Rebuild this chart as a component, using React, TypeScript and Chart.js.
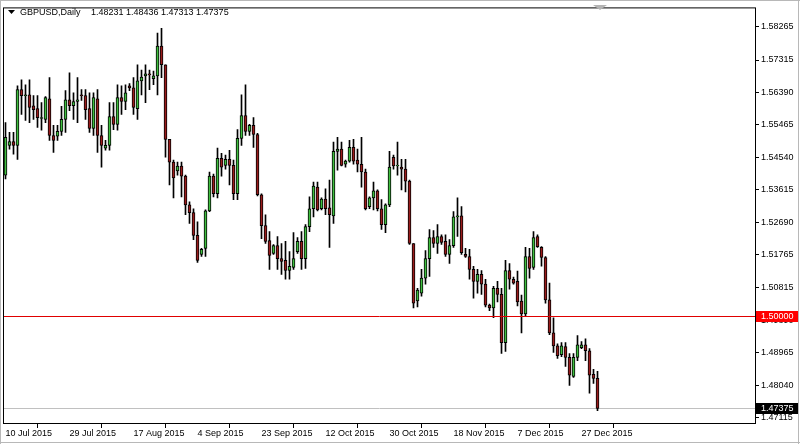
import React, { useEffect, useRef } from 'react';
import { Chart, registerables } from 'chart.js';
Chart.register(...registerables);

const SYMBOL = 'GBPUSD,Daily';
const LAST_BAR = ['1.48231', '1.48436', '1.47313', '1.47375'];
const LEVEL_LINE = 1.5;
const BID = 1.47375;

const OPEN = [
  1.5403, 1.5488, 1.5499, 1.5488, 1.5647, 1.5630, 1.5632, 1.5601, 1.5593, 1.5565,
  1.5562, 1.5621, 1.5516, 1.5514, 1.5528, 1.5562, 1.5618, 1.5601, 1.5613, 1.5632,
  1.5630, 1.5593, 1.5536, 1.5621, 1.5516, 1.5480, 1.5488, 1.5570, 1.5548, 1.5624,
  1.5613, 1.5658, 1.5652, 1.5593, 1.5672, 1.5686, 1.5692, 1.5678, 1.5686, 1.5771,
  1.5718, 1.5505, 1.5440, 1.5415, 1.5429, 1.5400, 1.5318, 1.5296, 1.5231, 1.5177,
  1.5194, 1.5301, 1.5400, 1.5350, 1.5451, 1.5431, 1.5448, 1.5431, 1.5350, 1.5508,
  1.5573, 1.5528, 1.5545, 1.5519, 1.5347, 1.5259, 1.5216, 1.5180, 1.5202, 1.5165,
  1.5160, 1.5131, 1.5140, 1.5185, 1.5214, 1.5165, 1.5256, 1.5307, 1.5369, 1.5307,
  1.5335, 1.5310, 1.5287, 1.5471, 1.5477, 1.5434, 1.5443, 1.5482, 1.5446, 1.5434,
  1.5412, 1.5313, 1.5338, 1.5358, 1.5307, 1.5262, 1.5318, 1.5454, 1.5429, 1.5426,
  1.5420, 1.5386, 1.5208, 1.5044, 1.5066, 1.5109, 1.5165, 1.5225, 1.5208, 1.5228,
  1.5214, 1.5177, 1.5202, 1.5284, 1.5287, 1.5177, 1.5171, 1.5134, 1.5100, 1.5120,
  1.5092, 1.5032, 1.5024, 1.5080, 1.5063, 1.4925, 1.5131, 1.5106, 1.5100, 1.5044,
  1.5007, 1.5171, 1.5140, 1.5228, 1.5197, 1.5168, 1.5047, 1.4953, 1.4916, 1.4891,
  1.4914, 1.4883, 1.4829, 1.4883, 1.4911, 1.4919, 1.4902, 1.4835, 1.48231,
];
const HIGH = [
  1.5553, 1.5525, 1.5525, 1.5658, 1.5675, 1.5661, 1.5675, 1.5630, 1.5630, 1.5610,
  1.5627, 1.5681, 1.5545, 1.5545, 1.5599, 1.5644, 1.5695, 1.5638, 1.5681, 1.5647,
  1.5647, 1.5638, 1.5638, 1.5647, 1.5545, 1.5502, 1.5610, 1.5610, 1.5661, 1.5658,
  1.5661, 1.5664, 1.5681, 1.5718, 1.5703, 1.5718, 1.5703, 1.5700, 1.5808, 1.5822,
  1.5718, 1.5505, 1.5446, 1.5440, 1.5440, 1.5403, 1.5327, 1.5307, 1.5270, 1.5194,
  1.5304, 1.5412, 1.5406, 1.5480, 1.5465, 1.5460, 1.5474, 1.5446, 1.5533, 1.5632,
  1.5661, 1.5548, 1.5567, 1.5522, 1.5350, 1.5290, 1.5242, 1.5205, 1.5228, 1.5208,
  1.5214, 1.5185, 1.5239, 1.5225, 1.5242, 1.5262, 1.5341, 1.5383, 1.5383, 1.5338,
  1.5364, 1.5389, 1.5497, 1.5511, 1.5497, 1.5446, 1.5502, 1.5505, 1.5477, 1.5511,
  1.5420, 1.5341, 1.5383, 1.5361, 1.5333, 1.5321, 1.5471, 1.5460, 1.5497, 1.5448,
  1.5448, 1.5389, 1.5208, 1.5080, 1.5134, 1.5188, 1.5248, 1.5245, 1.5262, 1.5233,
  1.5233, 1.5219, 1.5299, 1.5338, 1.5313, 1.5194, 1.5191, 1.5143, 1.5134, 1.5131,
  1.5106, 1.5035, 1.5086, 1.5100, 1.5080, 1.5160, 1.5151, 1.5112, 1.5129, 1.5061,
  1.5197, 1.5194, 1.5242, 1.5233, 1.5199, 1.5171, 1.5095, 1.4996, 1.4922, 1.4925,
  1.4925, 1.4894, 1.4894, 1.4945, 1.4928, 1.4936, 1.4908, 1.4849, 1.48436,
];
const LOW = [
  1.5392, 1.5477, 1.5463, 1.5448, 1.5576, 1.5559, 1.5553, 1.5562, 1.5539, 1.5531,
  1.5553, 1.5502, 1.5468, 1.5502, 1.5516, 1.5525, 1.5587, 1.5562, 1.5553, 1.5616,
  1.5562, 1.5525, 1.5516, 1.5468, 1.5426, 1.5474, 1.5474, 1.5533, 1.5531, 1.5576,
  1.5590, 1.5644, 1.5576, 1.5562, 1.5632, 1.5610, 1.5647, 1.5661, 1.5632, 1.5681,
  1.5454, 1.5375, 1.5338, 1.5403, 1.5341, 1.5290, 1.5265, 1.5219, 1.5154, 1.5171,
  1.5171, 1.5299, 1.5341, 1.5338, 1.5400, 1.5420, 1.5375, 1.5333, 1.5333, 1.5488,
  1.5516, 1.5516, 1.5482, 1.5344, 1.5222, 1.5208, 1.5134, 1.5177, 1.5134, 1.5120,
  1.5106, 1.5106, 1.5134, 1.5180, 1.5134, 1.5137, 1.5242, 1.5284, 1.5301, 1.5304,
  1.5290, 1.5197, 1.5265, 1.5417, 1.5429, 1.5426, 1.5440, 1.5434, 1.5412, 1.5369,
  1.5304, 1.5307, 1.5304, 1.5301, 1.5248, 1.5239, 1.5313, 1.5420, 1.5403, 1.5361,
  1.5355, 1.5205, 1.5024, 1.5027, 1.5058, 1.5092, 1.5114, 1.5197, 1.5180, 1.5205,
  1.5171, 1.5151, 1.5197, 1.5228, 1.5177, 1.5168, 1.5106, 1.5052, 1.5066, 1.5063,
  1.5027, 1.5016, 1.4996, 1.5041, 1.4894, 1.4900, 1.5078, 1.5092, 1.5030, 1.4953,
  1.5001, 1.5109, 1.5134, 1.5197, 1.5143, 1.5038, 1.4948, 1.4897, 1.4880, 1.4885,
  1.4857, 1.4803, 1.4826, 1.4874, 1.4908, 1.4874, 1.4781, 1.4809, 1.47313,
];
const CLOSE = [
  1.5511, 1.5499, 1.5488, 1.5647, 1.5630, 1.5632, 1.5596, 1.5590, 1.5567, 1.5567,
  1.5624, 1.5516, 1.5502, 1.5528, 1.5562, 1.5618, 1.5601, 1.5613, 1.5618, 1.5630,
  1.5590, 1.5536, 1.5624, 1.5516, 1.5488, 1.5488, 1.5570, 1.5548, 1.5624, 1.5613,
  1.5638, 1.5652, 1.5596, 1.5672, 1.5683, 1.5692, 1.5689, 1.5686, 1.5771, 1.5718,
  1.5505, 1.5440, 1.5395, 1.5429, 1.5400, 1.5318, 1.5296, 1.5231, 1.5160, 1.5191,
  1.5301, 1.5400, 1.5350, 1.5451, 1.5426, 1.5448, 1.5431, 1.5350, 1.5508, 1.5573,
  1.5528, 1.5545, 1.5519, 1.5347, 1.5259, 1.5214, 1.5174, 1.5202, 1.5165, 1.5157,
  1.5131, 1.5143, 1.5165, 1.5214, 1.5165, 1.5256, 1.5307, 1.5372, 1.5304, 1.5335,
  1.5307, 1.5290, 1.5471, 1.5477, 1.5431, 1.5443, 1.5482, 1.5443, 1.5434, 1.5412,
  1.5307, 1.5338, 1.5358, 1.5307, 1.5262, 1.5318, 1.5426, 1.5429, 1.5431, 1.5420,
  1.5386, 1.5208, 1.5038, 1.5075, 1.5109, 1.5165, 1.5225, 1.5208, 1.5228, 1.5211,
  1.5177, 1.5202, 1.5284, 1.5287, 1.5182, 1.5171, 1.5134, 1.5100, 1.5120, 1.5092,
  1.5032, 1.5024, 1.5080, 1.5063, 1.4925, 1.5131, 1.5106, 1.5095, 1.5041, 1.5007,
  1.5171, 1.5137, 1.5225, 1.5199, 1.5168, 1.5047, 1.4953, 1.4916, 1.4888, 1.4916,
  1.4883, 1.4832, 1.4883, 1.4919, 1.4919, 1.4902, 1.4832, 1.4823, 1.47375,
];

const DATE_TICK_BARS = [0, 16, 32, 48, 64, 80, 96, 112, 128, 144];
const DATE_TICK_LABELS = [
  '10 Jul 2015', '29 Jul 2015', '17 Aug 2015', '4 Sep 2015', '23 Sep 2015',
  '12 Oct 2015', '30 Oct 2015', '18 Nov 2015', '7 Dec 2015', '27 Dec 2015',
];
const PRICE_TICKS = [
  1.47115, 1.4804, 1.48965, 1.4989, 1.50815, 1.51765, 1.5269, 1.53615, 1.5454,
  1.55465, 1.5639, 1.57315, 1.58265,
];

const FONT = '"Liberation Sans", Arial, sans-serif';
const BULL = '#3fbf3f';
const BEAR = '#9a1c1c';

const overlay = {
  id: 'mt4overlay',
  beforeDatasetsDraw(chart: any) {
    const { ctx, chartArea: a, scales } = chart;
    const yb = Math.floor(scales.y.getPixelForValue(BID)) + 0.5;
    ctx.save();
    ctx.strokeStyle = '#c0c0c0';
    ctx.lineWidth = 1;
    ctx.beginPath();
    ctx.moveTo(a.left, yb);
    ctx.lineTo(a.right, yb);
    ctx.stroke();
    ctx.restore();
  },
  afterDatasetsDraw(chart: any) {
    const { ctx, chartArea: a, scales } = chart;
    const yl = Math.floor(scales.y.getPixelForValue(LEVEL_LINE)) + 0.5;
    ctx.save();
    ctx.strokeStyle = '#e00000';
    ctx.lineWidth = 1;
    ctx.beginPath();
    ctx.moveTo(a.left, yl);
    ctx.lineTo(a.right, yl);
    ctx.stroke();
    ctx.restore();
  },
  afterDraw(chart: any) {
    const { ctx, chartArea: a, scales } = chart;
    ctx.save();
    // frame
    ctx.strokeStyle = '#000';
    ctx.lineWidth = 1;
    ctx.strokeRect(a.left + 0.5, a.top + 0.5, a.right - a.left - 1, a.bottom - a.top - 1);
    // outer window edges
    ctx.strokeStyle = '#b8b8b8';
    ctx.beginPath();
    ctx.moveTo(798.5, 0);
    ctx.lineTo(798.5, 444);
    ctx.moveTo(0, 442.5);
    ctx.lineTo(800, 442.5);
    ctx.moveTo(0, 0.5);
    ctx.lineTo(800, 0.5);
    ctx.moveTo(0.5, 0);
    ctx.lineTo(0.5, 444);
    ctx.stroke();
    // price boxes
    ctx.font = `9px ${FONT}`;
    ctx.textBaseline = 'middle';
    ctx.textAlign = 'left';
    const yl = Math.floor(scales.y.getPixelForValue(LEVEL_LINE)) + 0.5;
    ctx.fillStyle = '#ff0000';
    ctx.fillRect(a.right, Math.round(yl - 6), 42, 11);
    ctx.fillStyle = '#fff';
    ctx.fillText(LEVEL_LINE.toFixed(5), a.right + 5, yl);
    const yb = Math.floor(scales.y.getPixelForValue(BID)) + 0.5;
    ctx.fillStyle = '#000';
    ctx.fillRect(a.right, Math.round(yb - 6), 42, 11);
    ctx.fillStyle = '#fff';
    ctx.fillText(BID.toFixed(5), a.right + 5, yb);
    // title
    ctx.fillStyle = '#000';
    ctx.beginPath();
    ctx.moveTo(8, 10);
    ctx.lineTo(15, 10);
    ctx.lineTo(11.5, 14);
    ctx.closePath();
    ctx.fill();
    ctx.fillText(SYMBOL, 20, 13);
    ctx.fillText(LAST_BAR.join(' '), 91, 13);
    // chart shift marker
    ctx.fillStyle = '#b4b4b4';
    ctx.beginPath();
    ctx.moveTo(593, 5);
    ctx.lineTo(607, 5);
    ctx.lineTo(600, 10);
    ctx.closePath();
    ctx.fill();
    ctx.restore();
  },
};

export default function App() {
  const ref = useRef<HTMLCanvasElement | null>(null);
  useEffect(() => {
    document.body.style.margin = '0';
    const canvas = ref.current!;
    const idx = OPEN.map((_, i) => i);
    const chart = new Chart(canvas, {
      type: 'bar',
      data: {
        datasets: [
          {
            label: 'body',
            data: idx.map((i) => ({ x: i, y: [OPEN[i], CLOSE[i]] })) as any,
            backgroundColor: idx.map((i) => (CLOSE[i] > OPEN[i] ? BULL : BEAR)),
            borderColor: '#000',
            borderWidth: 1,
            borderSkipped: false,
            barThickness: 3,
            grouped: false,
            order: 1,
          } as any,
          {
            label: 'wick',
            data: idx.map((i) => ({ x: i, y: [LOW[i], HIGH[i]] })) as any,
            backgroundColor: '#000',
            borderWidth: 0,
            barThickness: 1,
            grouped: false,
            order: 2,
          } as any,
        ],
      },
      options: {
        responsive: false,
        animation: false,
        events: [],
        layout: { padding: { left: 3, top: 4, right: 0, bottom: 0 } },
        plugins: { legend: { display: false }, tooltip: { enabled: false } },
        scales: {
          x: {
            type: 'linear',
            min: -0.625,
            max: 187.625,
            offset: false,
            afterFit: (s: any) => { s.height = 20; },
            afterBuildTicks: (s: any) => { s.ticks = DATE_TICK_BARS.map((v) => ({ value: v })); },
            grid: { display: true, drawOnChartArea: false, drawTicks: true, tickLength: 4, tickColor: '#000' },
            border: { display: false },
            ticks: {
              autoSkip: false,
              maxRotation: 0,
              minRotation: 0,
              align: 'start',
              padding: 0,
              color: '#000',
              font: { family: FONT, size: 9 },
              callback: (v: any) => {
                const k = DATE_TICK_BARS.indexOf(Number(v));
                return k >= 0 ? DATE_TICK_LABELS[k] : '';
              },
            },
          } as any,
          y: {
            type: 'linear',
            position: 'right',
            min: 1.469298,
            max: 1.588158,
            afterFit: (s: any) => { s.width = 44; },
            afterBuildTicks: (s: any) => { s.ticks = PRICE_TICKS.map((v) => ({ value: v })); },
            grid: { display: true, drawOnChartArea: false, drawTicks: true, tickLength: 3, tickColor: '#000' },
            border: { display: false },
            ticks: {
              autoSkip: false,
              padding: 2,
              color: '#000',
              font: { family: FONT, size: 9 },
              callback: (v: any) => Number(v).toFixed(5),
            },
          } as any,
        },
      },
      plugins: [overlay],
    });
    return () => chart.destroy();
  }, []);
  return (
    <div style={{ position: 'fixed', left: 0, top: 0, width: 800, height: 444, background: '#fff' }}>
      <canvas ref={ref} width={800} height={444} style={{ width: 800, height: 444, display: 'block' }} />
    </div>
  );
}
